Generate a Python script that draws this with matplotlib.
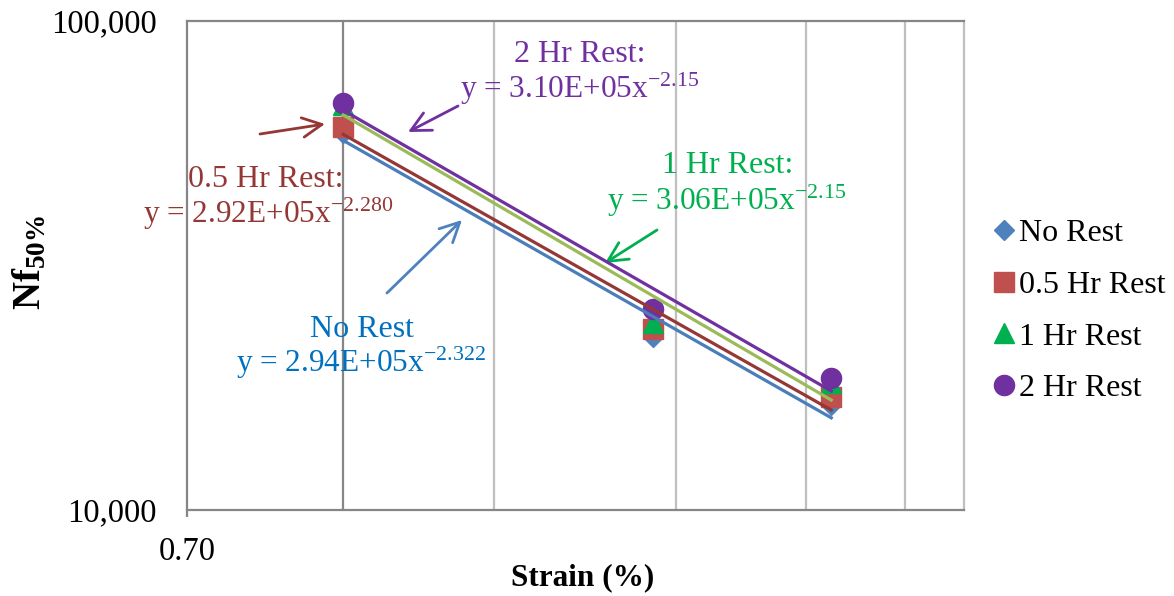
import numpy as np
import matplotlib
matplotlib.use("Agg")
import matplotlib.pyplot as plt

# data (log-log)
strain = [0.846, 1.232, 1.529]
no_rest = [59000, 22600, 16400]
half_hr = [60700, 23400, 17000]
one_hr = [67300, 24100, 18200]
two_hr = [68000, 25800, 18600]
series_names = ["No Rest", "0.5 Hr Rest", "1 Hr Rest", "2 Hr Rest"]
grid_x = [1.016, 1.266, 1.483, 1.672]

W, H = 1174, 596
plt.rcParams["font.family"] = ["Liberation Serif", "DejaVu Serif"]
plt.rcParams["mathtext.fontset"] = "custom"
plt.rcParams["mathtext.rm"] = "Liberation Serif"
plt.rcParams["mathtext.it"] = "Liberation Serif:italic"
plt.rcParams["mathtext.bf"] = "Liberation Serif:bold"


def fp(x, y):
    # image pixel (top-left origin) -> figure fraction
    return (x / W, 1 - y / H)


fig = plt.figure(figsize=(W / 100, H / 100), dpi=100)
ax = fig.add_axes([187 / W, 1 - 510 / H, (964 - 187) / W, (510 - 21) / H])
ax.set_xscale("log")
ax.set_yscale("log")
ax.set_xlim(0.7, 1.796)
ax.set_ylim(1e4, 1e5)

styles = [
    (no_rest, "D", 10.5, "#4F81BD", "#4A7EBB"),
    (half_hr, "s", 14, "#C0504D", "#953735"),
    (one_hr, "^", 14, "#00B050", "#9BBB59"),
    (two_hr, "o", 14.5, "#7030A0", "#7030A0"),
]
xs = np.array(strain)
for (vals, mk, ms, mcol, lcol), name in zip(styles, series_names):
    ax.plot(strain, vals, linestyle="none", marker=mk, markersize=ms,
            color=mcol, markeredgecolor=mcol, label=name, zorder=3)
    # power-law trendline (least squares in log-log)
    b, loga = np.polyfit(np.log(xs), np.log(vals), 1)
    xl = np.array([xs[0], xs[-1]])
    ax.plot(xl, np.exp(loga) * xl ** b, color=lcol, lw=2.3, zorder=4)

# gridlines
ax.axvline(strain[0], color="#868686", lw=1.6, zorder=1)
for gx in grid_x:
    ax.axvline(gx, color="#BFBFBF", lw=1.6, zorder=1)

for side in ["top", "bottom", "left"]:
    ax.spines[side].set_color("#868686")
    ax.spines[side].set_linewidth(1.6)
ax.spines["right"].set_color("#BFBFBF")
ax.spines["right"].set_linewidth(1.6)

ax.set_xticks([0.7])
ax.set_xticklabels(["0.70"])
ax.xaxis.set_minor_locator(matplotlib.ticker.NullLocator())
ax.set_yticks([1e4, 1e5])
ax.set_yticklabels(["10,000", "100,000"])
ax.yaxis.set_minor_locator(matplotlib.ticker.NullLocator())
ax.tick_params(axis="x", length=5, width=1.6, color="#868686", pad=14, labelsize=23.5)
ax.tick_params(axis="y", length=0, pad=22, labelsize=23.5)

fig.text(*fp(583, 578), "Strain (%)", fontsize=22.5, fontweight="bold",
         ha="center", va="center")
fig.text(*fp(30, 262), r"$\mathbf{Nf_{50\%}}$", fontsize=28, rotation=90,
         ha="center", va="center")

# annotations
notes = [
    ("2 Hr Rest:", r"y = 3.10E+05x$^{-2.15}$", "#7030A0", 580, 62, 580, 98),
    ("1 Hr Rest:", r"y = 3.06E+05x$^{-2.15}$", "#00B050", 728, 173, 727, 210),
    ("0.5 Hr Rest:", r"y = 2.92E+05x$^{-2.280}$", "#953735", 266, 187, 268, 223),
    ("No Rest", r"y = 2.94E+05x$^{-2.322}$", "#0070C0", 362, 337, 361, 372),
]
for t1, t2, col, x1, y1, x2, y2 in notes:
    fig.text(*fp(x1, y1), t1, color=col, fontsize=23, ha="center", va="baseline")
    fig.text(*fp(x2, y2), t2, color=col, fontsize=22.5, ha="center", va="baseline")

arrows = [
    ((458, 106), (408, 132), "#7030A0"),
    ((657, 230), (605, 263), "#00B050"),
    ((260, 134), (325, 124), "#953735"),
    ((387, 293), (462, 220), "#4F81BD"),
]
for tail, head, col in arrows:
    ax.annotate("", xy=fp(*head), xycoords="figure fraction",
                xytext=fp(*tail), textcoords="figure fraction",
                arrowprops=dict(arrowstyle="->,head_length=0.7,head_width=0.35",
                                color=col, lw=2, mutation_scale=20,
                                shrinkA=0, shrinkB=0))

fig.legend(loc="center left", bbox_to_anchor=fp(990, 311), frameon=False,
           fontsize=23, handlelength=0.9, handletextpad=0.0, labelspacing=0.7,
           borderpad=0, borderaxespad=0)

fig.savefig("out.png", dpi=100)
